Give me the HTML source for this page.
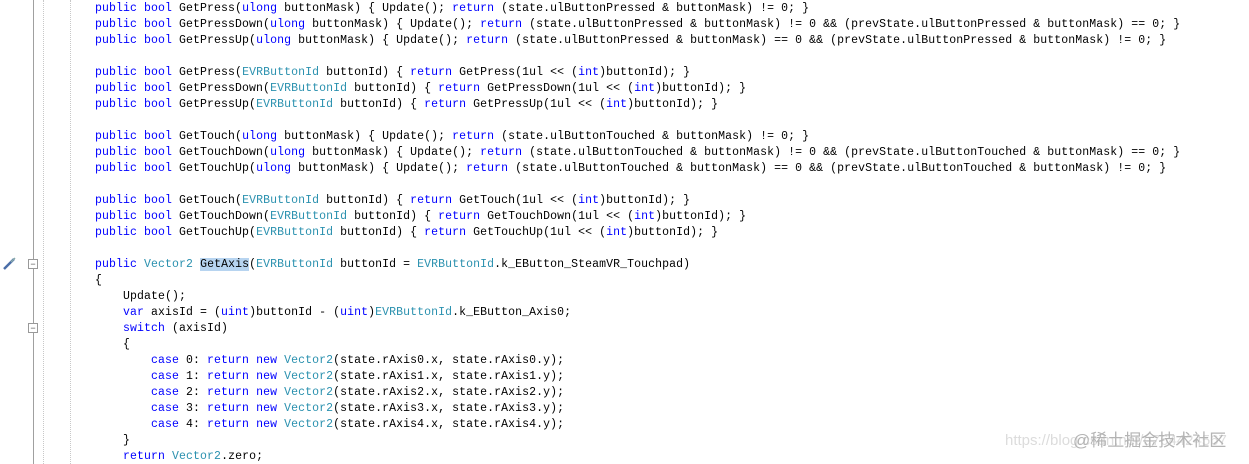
<!DOCTYPE html>
<html><head><meta charset="utf-8"><style>
html,body{margin:0;padding:0;background:#fff;width:1249px;height:464px;overflow:hidden;position:relative}
.code{position:absolute;left:95px;top:1px;font-family:"Liberation Mono",monospace;font-size:11.5px;letter-spacing:0.1px;line-height:16px;white-space:pre;color:#000}
.k{color:#0000ff}.t{color:#2b91af}
.hl{background:#b7d4f0}
.vl{position:absolute;top:0;height:464px;width:0}
.fold{position:absolute;left:28px;width:8px;height:8px;border:1px solid #999;background:#fff;font:9px/8px "Liberation Sans",sans-serif;text-align:center;color:#555}
.wm{position:absolute;font-family:"Liberation Sans","Noto Sans CJK SC",sans-serif;color:#c8c8c8}
</style></head><body>
<div class="vl" style="left:33px;border-left:1px solid #a0a0a0"></div>
<div class="vl" style="left:43px;border-left:1px dotted #c8c8c8"></div>
<div class="vl" style="left:70px;border-left:1px dotted #c8c8c8"></div>
<div class="fold" style="top:259px">−</div>
<div class="fold" style="top:323px">−</div>
<svg style="position:absolute;left:2px;top:257px" width="14" height="14"><line x1="2" y1="12" x2="12" y2="2" stroke="#4a6ea8" stroke-width="2.5"/><line x1="9" y1="5" x2="13" y2="1" stroke="#8aa" stroke-width="1.5"/></svg>
<div class="code"><span class="k">public</span> <span class="k">bool</span> GetPress(<span class="k">ulong</span> buttonMask) { Update(); <span class="k">return</span> (state.ulButtonPressed &amp; buttonMask) != 0; }
<span class="k">public</span> <span class="k">bool</span> GetPressDown(<span class="k">ulong</span> buttonMask) { Update(); <span class="k">return</span> (state.ulButtonPressed &amp; buttonMask) != 0 &amp;&amp; (prevState.ulButtonPressed &amp; buttonMask) == 0; }
<span class="k">public</span> <span class="k">bool</span> GetPressUp(<span class="k">ulong</span> buttonMask) { Update(); <span class="k">return</span> (state.ulButtonPressed &amp; buttonMask) == 0 &amp;&amp; (prevState.ulButtonPressed &amp; buttonMask) != 0; }

<span class="k">public</span> <span class="k">bool</span> GetPress(<span class="t">EVRButtonId</span> buttonId) { <span class="k">return</span> GetPress(1ul &lt;&lt; (<span class="k">int</span>)buttonId); }
<span class="k">public</span> <span class="k">bool</span> GetPressDown(<span class="t">EVRButtonId</span> buttonId) { <span class="k">return</span> GetPressDown(1ul &lt;&lt; (<span class="k">int</span>)buttonId); }
<span class="k">public</span> <span class="k">bool</span> GetPressUp(<span class="t">EVRButtonId</span> buttonId) { <span class="k">return</span> GetPressUp(1ul &lt;&lt; (<span class="k">int</span>)buttonId); }

<span class="k">public</span> <span class="k">bool</span> GetTouch(<span class="k">ulong</span> buttonMask) { Update(); <span class="k">return</span> (state.ulButtonTouched &amp; buttonMask) != 0; }
<span class="k">public</span> <span class="k">bool</span> GetTouchDown(<span class="k">ulong</span> buttonMask) { Update(); <span class="k">return</span> (state.ulButtonTouched &amp; buttonMask) != 0 &amp;&amp; (prevState.ulButtonTouched &amp; buttonMask) == 0; }
<span class="k">public</span> <span class="k">bool</span> GetTouchUp(<span class="k">ulong</span> buttonMask) { Update(); <span class="k">return</span> (state.ulButtonTouched &amp; buttonMask) == 0 &amp;&amp; (prevState.ulButtonTouched &amp; buttonMask) != 0; }

<span class="k">public</span> <span class="k">bool</span> GetTouch(<span class="t">EVRButtonId</span> buttonId) { <span class="k">return</span> GetTouch(1ul &lt;&lt; (<span class="k">int</span>)buttonId); }
<span class="k">public</span> <span class="k">bool</span> GetTouchDown(<span class="t">EVRButtonId</span> buttonId) { <span class="k">return</span> GetTouchDown(1ul &lt;&lt; (<span class="k">int</span>)buttonId); }
<span class="k">public</span> <span class="k">bool</span> GetTouchUp(<span class="t">EVRButtonId</span> buttonId) { <span class="k">return</span> GetTouchUp(1ul &lt;&lt; (<span class="k">int</span>)buttonId); }

<span class="k">public</span> <span class="t">Vector2</span> <span class="hl">GetAxis</span>(<span class="t">EVRButtonId</span> buttonId = <span class="t">EVRButtonId</span>.k_EButton_SteamVR_Touchpad)
{
    Update();
    <span class="k">var</span> axisId = (<span class="k">uint</span>)buttonId - (<span class="k">uint</span>)<span class="t">EVRButtonId</span>.k_EButton_Axis0;
    <span class="k">switch</span> (axisId)
    {
        <span class="k">case</span> 0: <span class="k">return</span> <span class="k">new</span> <span class="t">Vector2</span>(state.rAxis0.x, state.rAxis0.y);
        <span class="k">case</span> 1: <span class="k">return</span> <span class="k">new</span> <span class="t">Vector2</span>(state.rAxis1.x, state.rAxis1.y);
        <span class="k">case</span> 2: <span class="k">return</span> <span class="k">new</span> <span class="t">Vector2</span>(state.rAxis2.x, state.rAxis2.y);
        <span class="k">case</span> 3: <span class="k">return</span> <span class="k">new</span> <span class="t">Vector2</span>(state.rAxis3.x, state.rAxis3.y);
        <span class="k">case</span> 4: <span class="k">return</span> <span class="k">new</span> <span class="t">Vector2</span>(state.rAxis4.x, state.rAxis4.y);
    }
    <span class="k">return</span> <span class="t">Vector2</span>.zero;</div>
<div class="wm" style="left:1005px;top:432px;font-size:15px;color:#dcdcdc">https://blog.csdn.net/q764424567</div>
<div class="wm" style="left:1073px;top:426px;font-size:17px;color:#b4b4b4">@稀土掘金技术社区</div>
</body></html>
